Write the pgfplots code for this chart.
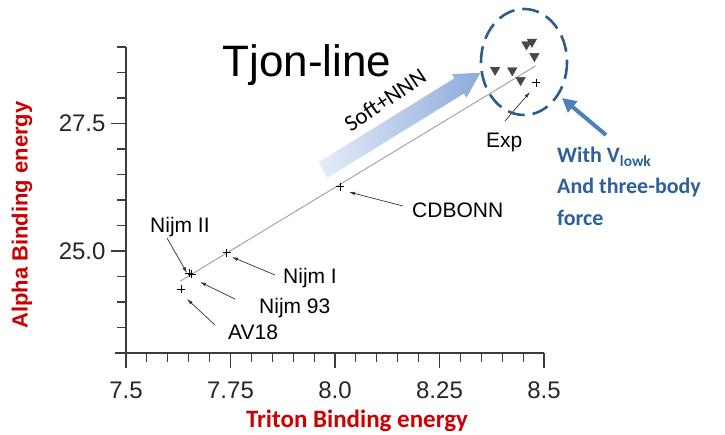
\documentclass[border=0pt]{standalone}
\usepackage{fontspec}
\setmainfont{Liberation Sans}
\newfontfamily\carlito{Carlito}
\usepackage{pgfplots}
\pgfplotsset{compat=1.18}
\usetikzlibrary{arrows.meta}
\definecolor{labred}{RGB}{204,0,0}
\definecolor{circblue}{RGB}{47,91,140}
\definecolor{txtblue}{RGB}{46,95,151}
\definecolor{arrblue}{RGB}{77,127,184}
\definecolor{paleblue}{RGB}{230,237,248}
\definecolor{midblue}{RGB}{142,170,220}
\definecolor{axgray}{RGB}{60,60,60}
\begin{document}
\begin{tikzpicture}
\useasboundingbox (-126pt,-81pt) rectangle (599pt,353pt);
\begin{axis}[scale only axis, width=418pt, height=306pt,
  xmin=7.5, xmax=8.5, ymin=23, ymax=29, clip=false,
  axis x line*=bottom, axis y line*=left,
  axis line style={axgray, line width=1.1pt},
  xtick={7.5,7.75,8,8.25,8.5}, xticklabels={7.5,7.75,8.0,8.25,8.5},
  minor xtick={7.55,7.6,7.65,7.7,7.8,7.85,7.9,7.95,8.05,8.1,8.15,8.2,8.3,8.35,8.4,8.45},
  ytick={25,27.5}, yticklabels={25.0,27.5},
  minor ytick={23,23.5,24,24.5,25.5,26,26.5,27,28,28.5,29},
  tick align=outside, major tick length=15pt, minor tick length=9pt,
  tick style={axgray, line width=1.1pt},
  ticklabel style={font=\fontsize{24}{26}\selectfont, text=black!85},
  xticklabel style={yshift=-10pt},
  yticklabel style={xshift=-2pt}]
\addplot[black!38, line width=0.9pt] coordinates {(7.63,24.41) (8.48,28.63)};
\addplot[only marks, mark=+, mark size=4pt, black, mark options={line width=0.6pt}] coordinates {
 (7.632,24.25) (7.651,24.57) (7.657,24.55) (7.741,24.97) (8.012,26.26) (8.482,28.30)};
\addplot[only marks, mark=triangle*, mark size=5.5pt, mark options={rotate=180, fill=black!72, draw=black!72}] coordinates {
 (8.458,29.05) (8.471,29.10) (8.477,28.82) (8.383,28.55) (8.424,28.54) (8.444,28.35)};
\end{axis}
\begin{scope}[shift={(-126pt,353pt)}, x=1pt, y=-1pt]
% axis stub left of the y axis
\draw[axgray, line width=1.1pt] (115,353) -- (126,353);
% axis titles
\node[rotate=90, text=labred, font=\bfseries\fontsize{22}{24}\selectfont] at (22,215) {Alpha Binding energy};
\node[anchor=base, text=labred, font=\carlito\bfseries\fontsize{25}{27}\selectfont] at (357,427) {Triton Binding energy};
% title
\node[anchor=base, font=\fontsize{44}{46}\selectfont] at (307,77) {Tjon-line};
% big gradient arrow
\begin{scope}[shift={(323,170)}, rotate=31.7]
\shade[left color=paleblue, right color=midblue] (0,-9) -- (160,-9) -- (160,-14) -- (185,0) -- (160,14) -- (160,9) -- (0,9) -- cycle;
\end{scope}
\node[rotate=34, font=\carlito\fontsize{23}{25}\selectfont] at (385,100) {Soft+NNN};
% point labels
\begin{scope}[font=\fontsize{21}{23}\selectfont]
\node[anchor=base west, inner sep=0] at (150,232) {Nijm II};
\node[anchor=base west, inner sep=0] at (283,283) {Nijm I};
\node[anchor=base west, inner sep=0] at (259,313) {Nijm 93};
\node[anchor=base west, inner sep=0] at (228,339) {AV18};
\node[anchor=base west, inner sep=0] at (412,218) {CDBONN};
\node[anchor=base west, inner sep=0] at (486,148) {Exp};
\end{scope}
\begin{scope}[black!80, line width=0.7pt, -{Latex[length=6pt, width=3.5pt]}]
\draw (167,238) -- (187,273);
\draw (275,275) -- (232,257);
\draw (235,299) -- (200,282);
\draw (215,325) -- (187,299);
\draw (403,206) -- (349,192);
\draw (505,121) -- (530,92);
\end{scope}
% V_lowk highlight
\draw[circblue, line width=2.6pt, dash pattern=on 17pt off 8pt] (524,62) ellipse [x radius=43, y radius=53];
\draw[arrblue, line width=4pt, -{Triangle[length=14pt, width=14pt]}] (606,135) -- (562,98);
\begin{scope}[text=txtblue, font=\carlito\bfseries\fontsize{22}{24}\selectfont]
\node[anchor=base west, inner sep=0] at (557,163) {With V\textsubscript{lowk}};
\node[anchor=base west, inner sep=0] at (557,194) {And three-body};
\node[anchor=base west, inner sep=0] at (557,226) {force};
\end{scope}
\end{scope}
\end{tikzpicture}
\end{document}
